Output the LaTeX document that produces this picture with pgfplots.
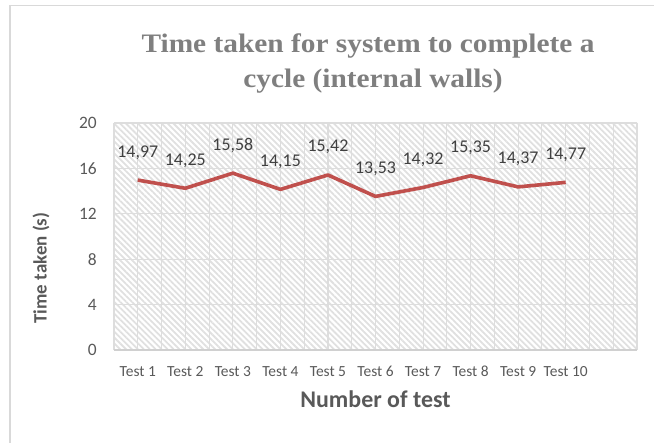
\documentclass[border=0pt]{standalone}
\usepackage{pgfplots}
\pgfplotsset{compat=1.18}
\usepackage{fontspec}
\setmainfont{Carlito}
\newfontfamily\titlefont[FakeStretch=1.1]{Liberation Serif}
\usetikzlibrary{patterns.meta}
\definecolor{linered}{HTML}{C0504D}
\definecolor{framegray}{HTML}{D9D9D9}
\definecolor{gridgray}{HTML}{DDDDDD}
\definecolor{axisgray}{HTML}{D0D0D0}
\definecolor{hatchgray}{HTML}{E0E0E0}
\definecolor{ticktext}{HTML}{595959}
\definecolor{labeltext}{HTML}{404040}
\definecolor{titletext}{HTML}{7F7F7F}
\begin{document}
\begin{tikzpicture}
\useasboundingbox (0bp,0bp) rectangle (654bp,443bp);
\draw[color=framegray, line width=1.5bp] (10bp,0bp) -- (10bp,437.5bp) -- (654bp,437.5bp);
\node[font=\titlefont\bfseries\fontsize{26.8}{32}\selectfont, text=titletext, anchor=base] at (368bp,390bp) {Time taken for system to complete a};
\node[font=\titlefont\bfseries\fontsize{26.8}{32}\selectfont, text=titletext, anchor=base] at (373bp,355bp) {cycle (internal walls)};
\begin{axis}[
  at={(114bp,93bp)}, anchor=south west,
  scale only axis, width=523bp, height=227bp,
  xmin=0.5, xmax=11.5, ymin=0, ymax=20,
  xtick={1,2,3,4,5,6,7,8,9,10,11},
  xticklabels={Test 1,Test 2,Test 3,Test 4,Test 5,Test 6,Test 7,Test 8,Test 9,Test 10,{}},
  minor xtick={0.5,1.5,2.5,3.5,4.5,5.5,6.5,7.5,8.5,9.5,10.5,11.5},
  ytick={0,4,8,12,16,20},
  grid=both,
  major grid style={draw=gridgray, line width=1.1bp},
  minor grid style={draw=gridgray, line width=1.1bp},
  axis x line*=bottom, axis y line*=left,
  x axis line style={draw=axisgray, line width=1.4bp, -},
  y axis line style={draw=none, -},
  major tick length=0pt, minor tick length=0pt,
  /pgf/number format/assume math mode=true,
  tick label style={font=\fontsize{17.5}{19}\selectfont, text=ticktext, inner sep=0pt},
  xticklabel style={font=\fontsize{15.5}{17}\selectfont, anchor=base, yshift=-26bp},
  yticklabel style={anchor=east, xshift=-17bp},
  axis background/.style={pattern={Lines[angle=-45,distance=4.2bp,line width=1.8bp]}, pattern color=hatchgray},
  xlabel={Number of test},
  xlabel style={at={(axis description cs:0.5,-0.2555)}, anchor=base, font=\bfseries\fontsize{24}{26}\selectfont, text=ticktext},
  ylabel={Time taken (s)},
  ylabel style={at={(axis description cs:-0.1396,0.361)}, anchor=center, font=\bfseries\fontsize{19}{21}\selectfont, text=ticktext},
  clip=false,
]
\addplot[color=linered, line width=3.6bp, line join=round, mark=none,
  nodes near coords={\pgfmathprintnumber[fixed,fixed zerofill,precision=2,use comma,assume math mode=true]{\pgfplotspointmeta}},
  point meta=y,
  every node near coord/.append style={anchor=base, yshift=23bp, inner sep=0pt, font=\fontsize{18}{20}\selectfont, text=labeltext}]
coordinates {(1,14.97) (2,14.25) (3,15.58) (4,14.15) (5,15.42) (6,13.53) (7,14.32) (8,15.35) (9,14.37) (10,14.77)};
\end{axis}
\end{tikzpicture}
\end{document}
